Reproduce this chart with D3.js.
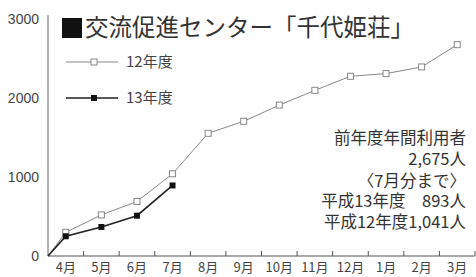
<!DOCTYPE html>
<html>
<head>
<meta charset="utf-8">
<script src="https://cdn.jsdelivr.net/npm/d3@7"></script>
<style>
  html, body { margin: 0; padding: 0; background: #fff; }
  svg { display: block; font-family: "Noto Sans CJK JP", "Noto Sans", sans-serif; }
</style>
</head>
<body>
<script>
// months of the fiscal year (Apr - Mar)
var months = ["4月","5月","6月","7月","8月","9月","10月","11月","12月","1月","2月","3月"];
// cumulative users
var fy12 = [300, 520, 690, 1041, 1553, 1705, 1910, 2097, 2275, 2309, 2393, 2675];
var fy13 = [250, 367, 510, 893];
var yTicks = [0, 1000, 2000, 3000];
var seriesNames = ["12年度", "13年度"];
var titleText = "交流促進センター「千代姫荘」";
var noteLines = ["前年度年間利用者", "2,675人", "〈7月分まで〉", "平成13年度　893人", "平成12年度1,041人"];

(function() {
  var width = 476, height = 277;
  var svg = d3.select("body").append("svg")
      .attr("width", width)
      .attr("height", height);

  var x = d3.scaleBand().domain(months).range([48, 475]);
  var y = d3.scaleLinear().domain([0, 3000]).range([256, 19]);

  // y axis
  var yAxis = d3.axisLeft(y).tickValues(yTicks).tickSize(0).tickPadding(9).tickFormat(d3.format("d"));
  var gy = svg.append("g").attr("transform", "translate(48,0)").call(yAxis);
  gy.select(".domain").attr("d", "M0," + (y(0)) + "V15").attr("stroke", "#666");
  gy.selectAll("text").attr("font-size", 14).attr("fill", "#444").attr("font-family", "inherit");

  // x axis: ticks at band edges, labels at band centers
  var edges = months.map(function(m) { return x(m) + x.bandwidth(); });
  svg.append("line")
      .attr("x1", x.range()[0]).attr("x2", x.range()[1])
      .attr("y1", y(0)).attr("y2", y(0))
      .attr("stroke", "#555");
  svg.selectAll(".xtick").data(edges).enter().append("line")
      .attr("class", "xtick")
      .attr("x1", function(d) { return d; }).attr("x2", function(d) { return d; })
      .attr("y1", y(0)).attr("y2", y(0) - 5)
      .attr("stroke", "#555");
  svg.selectAll(".xlab").data(months).enter().append("text")
      .attr("class", "xlab")
      .attr("x", function(d) { return x(d) + x.bandwidth() / 2; })
      .attr("y", 267)
      .attr("dy", "0.35em")
      .attr("text-anchor", "middle")
      .attr("font-size", 13)
      .attr("fill", "#444")
      .text(function(d) { return d; });

  function pts(vals) {
    var p = [[x.range()[0], y(0)]];
    vals.forEach(function(v, i) { p.push([x(months[i]) + x.bandwidth() / 2, y(v)]); });
    return p;
  }
  var line = d3.line();

  // 12年度
  var p12 = pts(fy12);
  svg.append("path").attr("d", line(p12)).attr("fill", "none").attr("stroke", "#888").attr("stroke-width", 1);
  svg.selectAll(".m12").data(p12.slice(1)).enter().append("rect")
      .attr("x", function(d) { return d[0] - 3; }).attr("y", function(d) { return d[1] - 3; })
      .attr("width", 6).attr("height", 6)
      .attr("fill", "#fff").attr("stroke", "#888").attr("stroke-width", 1);

  // 13年度
  var p13 = pts(fy13);
  svg.append("path").attr("d", line(p13)).attr("fill", "none").attr("stroke", "#222").attr("stroke-width", 1.6);
  svg.selectAll(".m13").data(p13.slice(1)).enter().append("rect")
      .attr("x", function(d) { return d[0] - 3; }).attr("y", function(d) { return d[1] - 3; })
      .attr("width", 6).attr("height", 6)
      .attr("fill", "#111");

  // title
  svg.append("rect").attr("x", 62).attr("y", 18).attr("width", 20).attr("height", 20).attr("fill", "#111");
  svg.append("text")
      .attr("x", 85).attr("y", 28).attr("dy", "0.36em")
      .attr("font-size", 23.5).attr("fill", "#333")
      .text(titleText);

  // legend
  var legY = [62, 98];
  seriesNames.forEach(function(name, i) {
    var g = svg.append("g").attr("transform", "translate(0," + legY[i] + ")");
    g.append("line").attr("x1", 66).attr("x2", 118)
        .attr("stroke", i === 0 ? "#888" : "#222").attr("stroke-width", i === 0 ? 1 : 1.6);
    g.append("rect").attr("x", 91).attr("y", -3).attr("width", 6).attr("height", 6)
        .attr("fill", i === 0 ? "#fff" : "#111").attr("stroke", i === 0 ? "#888" : "none");
    g.append("text").attr("x", 126).attr("dy", "0.36em")
        .attr("font-size", 15).attr("fill", "#444").text(name);
  });

  // note
  var noteY = [138, 159, 181, 201, 222];
  svg.selectAll(".note").data(noteLines).enter().append("text")
      .attr("class", "note")
      .attr("x", 466)
      .attr("y", function(d, i) { return noteY[i]; })
      .attr("dy", "0.36em")
      .attr("text-anchor", "end")
      .attr("font-size", 16.5)
      .attr("fill", "#333")
      .text(function(d) { return d; });
}());
</script>
</body>
</html>
